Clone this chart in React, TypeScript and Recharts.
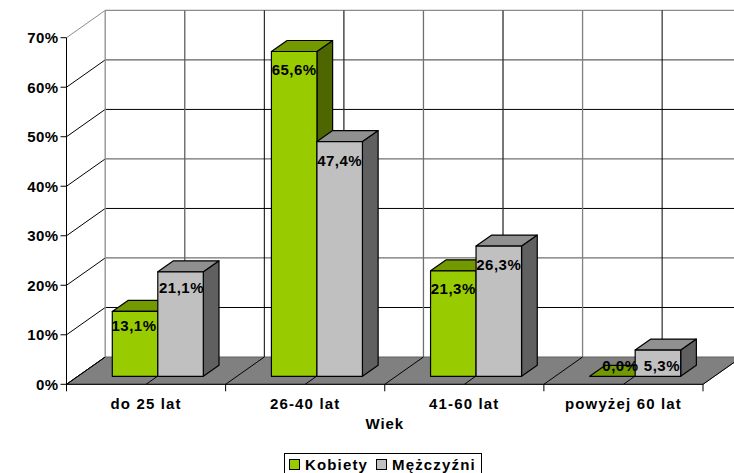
import React from 'react';
import { Bar, BarChart, CartesianGrid, LabelList, Legend, XAxis, YAxis } from 'recharts';

// Respondents by age group, split by gender (percent).
const categories = ['do 25 lat', '26-40 lat', '41-60 lat', 'powyżej 60 lat'];
const kobiety = [13.1, 65.6, 21.3, 0.0];
const mezczyzni = [21.1, 47.4, 26.3, 5.3];
const yTicks = [0, 10, 20, 30, 40, 50, 60, 70];

const rows = categories.map((wiek, i) => ({ wiek, kobiety: kobiety[i], mezczyzni: mezczyzni[i] }));

const FONT = '"Liberation Sans", Arial, sans-serif';

// Pseudo-3D projection: the wall sits behind the front plane, the boxes stand on the floor between.
const WALL_DX = 38.7;
const WALL_DY = 27.3;
const BOX_DX = 11.8;
const BOX_DY = 8;
const DEPTH_DX = 15.7;
const DEPTH_DY = 11;

const SHADES = {
  kobiety: { front: '#99CC00', top: '#739900', side: '#4D6600' },
  mezczyzni: { front: '#C0C0C0', top: '#909090', side: '#606060' },
};

// The wall lines render in alternating weights, bottom to top and left to right.
const rowInk = ['#606060', '#000', '#707070', '#000', '#707070', '#000', '#606060', '#8C8C8C'];
const columnInk = ['#8C8C8C', '#606060', '#000', '#303030', '#707070', '#303030', '#808080', '#000', '#808080'];

// Small per-label adjustments of the value captions, from the box top.
const captionNudge = {
  kobiety: [[-1, 13.7], [0, 17.7], [0, 17.5], [8, -11]],
  mezczyzni: [[1, 15.3], [0, 18.5], [0, 18], [4, 15.3]],
};

const pts = (list: number[][]) => list.map((p) => p.join(',')).join(' ');

const box = (series: 'kobiety' | 'mezczyzni') => (props: any) => {
  const { x, y, width, height } = props;
  const c = SHADES[series];
  const l = x + BOX_DX;
  const r = l + width;
  const t = y - BOX_DY;
  const b = t + height;
  const ink = { stroke: '#000', strokeWidth: 1.2, strokeLinejoin: 'round' as const };
  return (
    <g>
      {height > 0 && (
        <polygon points={pts([[r, t], [r + DEPTH_DX, t - DEPTH_DY], [r + DEPTH_DX, b - DEPTH_DY], [r, b]])} fill={c.side} {...ink} />
      )}
      <polygon points={pts([[l, t], [l + DEPTH_DX, t - DEPTH_DY], [r + DEPTH_DX, t - DEPTH_DY], [r, t]])} fill={c.top} {...ink} />
      {height > 0 && <rect x={l} y={t} width={width} height={height} fill={c.front} {...ink} />}
    </g>
  );
};

const caption = (series: 'kobiety' | 'mezczyzni') => (props: any) => {
  const { x, y, width, value, index } = props;
  const [nx, ny] = captionNudge[series][index];
  return (
    <text
      x={x + BOX_DX + width / 2 + nx}
      y={y - BOX_DY + ny}
      textAnchor="middle"
      dominantBaseline="central"
      fontFamily={FONT}
      fontWeight="bold"
      fontSize={15}
      letterSpacing={0.5}
      fill="#000"
    >
      {Number(value).toFixed(1).replace('.', ',')}%
    </text>
  );
};

// Horizontal grid value: back-wall line, side-wall diagonal; the baseline also paints the floor.
const wallRow = (props: any) => {
  const { x1, x2, y1, y, height, index } = props;
  const tier = Math.round(((y + height - y1) / height) * (yTicks.length - 1));
  const isFloor = tier === 0;
  return (
    <g key={`row-${index}`}>
      {isFloor && (
        <polygon
          points={pts([[x1, y1], [x1 + WALL_DX, y1 - WALL_DY], [x2 + WALL_DX, y1 - WALL_DY], [x2, y1]])}
          fill="#808080"
          stroke={rowInk[0]}
          strokeWidth={1}
        />
      )}
      {!isFloor && (
        <line
          x1={x1 + WALL_DX}
          x2={x2 + WALL_DX}
          y1={y1 - WALL_DY}
          y2={y1 - WALL_DY}
          stroke={rowInk[tier]}
          strokeWidth={rowInk[tier] === '#000' ? 1 : 1.3}
        />
      )}
      <line x1={x1} x2={x1 + WALL_DX} y1={y1} y2={y1 - WALL_DY} stroke={tier === yTicks.length - 1 ? rowInk[tier] : '#000'} strokeWidth={1} />
    </g>
  );
};

// Vertical grid value: back-wall line, floor diagonal, and a tick at each category edge.
const wallColumn = (props: any) => {
  const { x1, y1, y2, index } = props;
  return (
    <g key={`col-${index}`}>
      <line
        x1={x1 + WALL_DX}
        x2={x1 + WALL_DX}
        y1={y1 - WALL_DY}
        y2={y2 - WALL_DY}
        stroke={columnInk[index]}
        strokeWidth={columnInk[index] === '#000' ? 1 : 1.3}
      />
      <line x1={x1} x2={x1 + WALL_DX} y1={y2} y2={y2 - WALL_DY} stroke="#000" strokeWidth={1} />
      {index % 2 === 0 && <line x1={x1} x2={x1} y1={y2} y2={y2 + 7} stroke="#000" strokeWidth={1} />}
    </g>
  );
};

const LegendBox = (props: any) => (
  <div
    style={{
      display: 'flex',
      alignItems: 'center',
      height: 24,
      width: 198,
      boxSizing: 'border-box',
      border: '1px solid #000',
      padding: '0 0 1px 4px',
      fontFamily: FONT,
      fontWeight: 'bold',
      fontSize: 15,
      letterSpacing: 1.15,
      background: '#fff',
      color: '#000',
      whiteSpace: 'nowrap',
    }}
  >
    {props.payload
      .filter((entry: any) => entry.type !== 'none' && entry.value !== entry.dataKey)
      .map((entry: any) => (
        <span key={entry.value} style={{ display: 'inline-flex', alignItems: 'center', marginRight: 8 }}>
          <span style={{ width: 9, height: 9, border: '1px solid #000', background: entry.color, marginRight: 5 }} />
          {entry.value}
        </span>
      ))}
  </div>
);

export default function App() {
  return (
    <div style={{ position: 'absolute', left: 0, top: 0, width: 734, height: 473, background: '#fff', overflow: 'hidden' }}>
      <BarChart
        width={734}
        height={473}
        data={rows}
        margin={{ top: 37.7, right: 31, bottom: 0, left: 0 }}
        barSize={45.5}
        barGap={0}
      >
        <CartesianGrid
          horizontal={wallRow}
          vertical={wallColumn}
          verticalCoordinatesGenerator={({ offset }: any) =>
            Array.from({ length: categories.length * 2 + 1 }, (_, i) => offset.left + (i * offset.width) / (categories.length * 2))
          }
        />
        <XAxis
          dataKey="wiek"
          height={88.7}
          interval={0}
          tickLine={false}
          tickMargin={8}
          axisLine={{ stroke: '#000', strokeWidth: 1 }}
          tick={{ fontFamily: FONT, fontWeight: 'bold', fontSize: 15, fill: '#000', letterSpacing: 1.15 }}
          label={{
            value: 'Wiek',
            position: 'insideTop',
            offset: 34,
            style: { fontFamily: FONT, fontWeight: 'bold', fontSize: 15, fill: '#000', letterSpacing: 0.9 },
          }}
        />
        <XAxis xAxisId="captions" dataKey="wiek" hide />
        <YAxis
          width={66.5}
          domain={[0, 70]}
          ticks={yTicks}
          interval={0}
          tickSize={6}
          tickMargin={2}
          tickFormatter={(v: number) => `${v}%`}
          axisLine={{ stroke: '#000', strokeWidth: 1 }}
          tickLine={{ stroke: '#000', strokeWidth: 1 }}
          tick={{ fontFamily: FONT, fontWeight: 'bold', fontSize: 15, fill: '#000', letterSpacing: 0.4 }}
        />
        <Legend
          layout="horizontal"
          verticalAlign="middle"
          align="center"
          content={LegendBox}
          wrapperStyle={{ position: 'absolute', left: 284, top: 453, width: 'auto', bottom: 'auto', right: 'auto' }}
        />
        <Bar dataKey="kobiety" name="Kobiety" fill={SHADES.kobiety.front} shape={box('kobiety')} isAnimationActive={false} />
        <Bar dataKey="mezczyzni" name="Mężczyźni" fill={SHADES.mezczyzni.front} shape={box('mezczyzni')} isAnimationActive={false} />
        {/* Caption-only series share the same slots but paint above every box. */}
        <Bar xAxisId="captions" dataKey="kobiety" legendType="none" shape={() => null} isAnimationActive={false}>
          <LabelList dataKey="kobiety" content={caption('kobiety')} />
        </Bar>
        <Bar xAxisId="captions" dataKey="mezczyzni" legendType="none" shape={() => null} isAnimationActive={false}>
          <LabelList dataKey="mezczyzni" content={caption('mezczyzni')} />
        </Bar>
      </BarChart>
    </div>
  );
}
